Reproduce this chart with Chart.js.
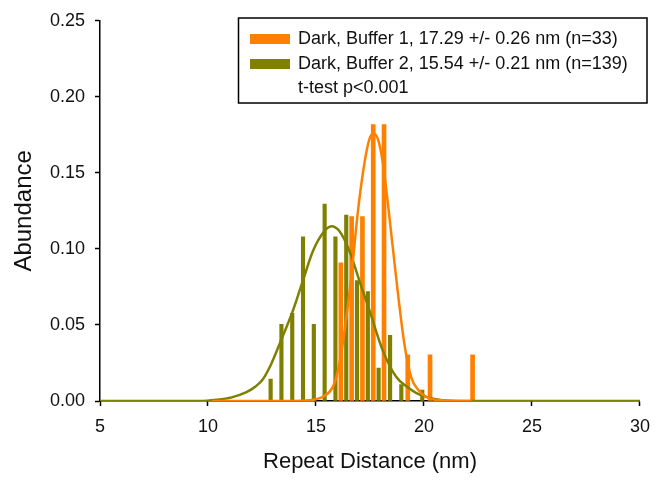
<!DOCTYPE html>
<html lang="en">
<head>
  <meta charset="UTF-8">
  <title>Repeat Distance Histogram</title>
  <script src="https://cdn.jsdelivr.net/npm/chart.js"></script>
  <style>
    html, body { margin: 0; padding: 0; background: #ffffff; }
    #wrap { width: 660px; height: 481px; }
  </style>
</head>
<body>
  <div id="wrap"><canvas id="chartCanvas" width="660" height="481"></canvas></div>

  <script>
    // bar positions (nm) and abundances
    const buffer1X = [16.15, 16.65, 17.15, 17.65, 18.15, 19.25, 20.28, 22.25];
    const buffer1Y = [0.0909, 0.1212, 0.1212, 0.1818, 0.1818, 0.0303, 0.0303, 0.0303];

    const buffer2X = [12.9, 13.4, 13.9, 14.4, 14.9, 15.4, 15.9, 16.4, 16.9, 17.4, 17.9, 18.43, 18.95, 19.92];
    const buffer2Y = [0.0144, 0.0504, 0.0576, 0.1079, 0.0504, 0.1295, 0.1079, 0.1223, 0.0791, 0.0719, 0.0216, 0.0432, 0.0108, 0.0072];

    // fitted curves, points
    const fit1X = [10.2, 14.0, 14.55, 15.0, 15.32, 15.78, 16.0, 16.24, 16.63, 16.94, 17.25, 17.48, 17.66, 17.86, 18.09, 18.37, 18.71, 19.09, 19.40, 19.75, 20.10, 20.56, 22.2];
    const fit1Y = [0, 0, 0.0003, 0.0012, 0.0028, 0.0093, 0.019, 0.0377, 0.0811, 0.1247, 0.157, 0.1725, 0.1758, 0.1725, 0.157, 0.1247, 0.0811, 0.0377, 0.0159, 0.007, 0.0028, 0.0007, 0];

    const fit2X = [5, 9.6, 10.4, 11.1, 11.78, 12.2, 12.55, 12.9, 13.32, 13.93, 14.39, 14.86, 15.32, 15.71, 16.09, 16.55, 17.01, 17.48, 18.09, 18.71, 19.2, 19.63, 20.56, 21.5, 30];
    const fit2Y = [0, 0, 0.0008, 0.0024, 0.0058, 0.0095, 0.0145, 0.0235, 0.0377, 0.0594, 0.079, 0.0986, 0.1105, 0.1149, 0.1116, 0.0986, 0.079, 0.0594, 0.0333, 0.0159, 0.0095, 0.0054, 0.0011, 0, 0];

    const xTicks = [5, 10, 15, 20, 25, 30];
    const yTicks = [0, 0.05, 0.10, 0.15, 0.20, 0.25];

    const legendLabels = [
      "Dark, Buffer 1, 17.29 +/- 0.26 nm (n=33)",
      "Dark, Buffer 2, 15.54 +/- 0.21 nm (n=139)"
    ];
    const legendNote = "t-test p<0.001";

    const ORANGE = "#ff8000";
    const OLIVE = "#808000";
    const FONT = "'Liberation Sans', Arial, sans-serif";

    function pts(xs, ys) {
      return xs.map((x, i) => ({ x: x, y: ys[i] }));
    }

    // boxed legend in the upper right, like the original
    const boxLegend = {
      id: "boxLegend",
      afterDraw(chart) {
        const ctx = chart.ctx;
        ctx.save();
        ctx.strokeStyle = "#000";
        ctx.lineWidth = 1.5;
        ctx.strokeRect(238.5, 18, 408.5, 85);

        const colors = [ORANGE, OLIVE];
        const rows = [39, 64];
        ctx.font = "18px " + FONT;
        ctx.textBaseline = "middle";
        legendLabels.forEach((txt, i) => {
          ctx.fillStyle = colors[i];
          ctx.fillRect(250, rows[i] - 5, 40, 10);
          ctx.fillStyle = "#111";
          ctx.fillText(txt, 298, rows[i]);
        });
        ctx.fillStyle = "#111";
        ctx.fillText(legendNote, 298, 88);
        ctx.restore();
      }
    };

    const ctx = document.getElementById("chartCanvas").getContext("2d");
    new Chart(ctx, {
      type: "bar",
      data: {
        datasets: [
          {
            type: "line",
            label: "fit1",
            data: pts(fit1X, fit1Y),
            borderColor: ORANGE,
            borderWidth: 2.5,
            pointRadius: 0,
            cubicInterpolationMode: "monotone",
            fill: false,
            order: 0
          },
          {
            type: "line",
            label: "fit2",
            data: pts(fit2X, fit2Y),
            borderColor: OLIVE,
            borderWidth: 2.5,
            pointRadius: 0,
            cubicInterpolationMode: "monotone",
            fill: false,
            order: 1
          },
          {
            label: legendLabels[1],
            data: pts(buffer2X, buffer2Y),
            backgroundColor: OLIVE,
            barThickness: 3.5,
            grouped: false,
            order: 2
          },
          {
            label: legendLabels[0],
            data: pts(buffer1X, buffer1Y),
            backgroundColor: ORANGE,
            barThickness: 4,
            grouped: false,
            order: 3
          }
        ]
      },
      options: {
        responsive: false,
        animation: false,
        layout: { padding: { top: 18, right: 19, left: 0, bottom: 0 } },
        plugins: {
          legend: { display: false },
          tooltip: { enabled: false }
        },
        scales: {
          x: {
            type: "linear",
            min: 5,
            max: 30,
            offset: false,
            afterFit: s => { s.height = 80; },
            afterBuildTicks: s => { s.ticks = xTicks.map(v => ({ value: v })); },
            ticks: {
              color: "#111",
              padding: 10,
              maxRotation: 0,
              font: { family: FONT, size: 18 }
            },
            grid: {
              offset: false,
              drawOnChartArea: false,
              drawTicks: true,
              tickLength: 5,
              tickColor: "#000",
              tickWidth: 1.5
            },
            border: { display: true, color: "#000", width: 1.5 },
            title: {
              display: true,
              text: "Repeat Distance (nm)",
              color: "#111",
              font: { family: FONT, size: 22 },
              padding: { top: 0, bottom: 6 }
            }
          },
          y: {
            min: 0,
            max: 0.25,
            afterFit: s => { s.width = 100; },
            afterBuildTicks: s => { s.ticks = yTicks.map(v => ({ value: v })); },
            ticks: {
              color: "#111",
              padding: 10,
              font: { family: FONT, size: 18 },
              callback: v => v.toFixed(2)
            },
            grid: {
              offset: false,
              drawOnChartArea: false,
              drawTicks: true,
              tickLength: 5,
              tickColor: "#000",
              tickWidth: 1.5
            },
            border: { display: true, color: "#000", width: 1.5 },
            title: {
              display: true,
              text: "Abundance",
              color: "#111",
              font: { family: FONT, size: 24 },
              padding: { top: 10, bottom: 0 }
            }
          }
        }
      },
      plugins: [boxLegend]
    });
  </script>
</body>
</html>
